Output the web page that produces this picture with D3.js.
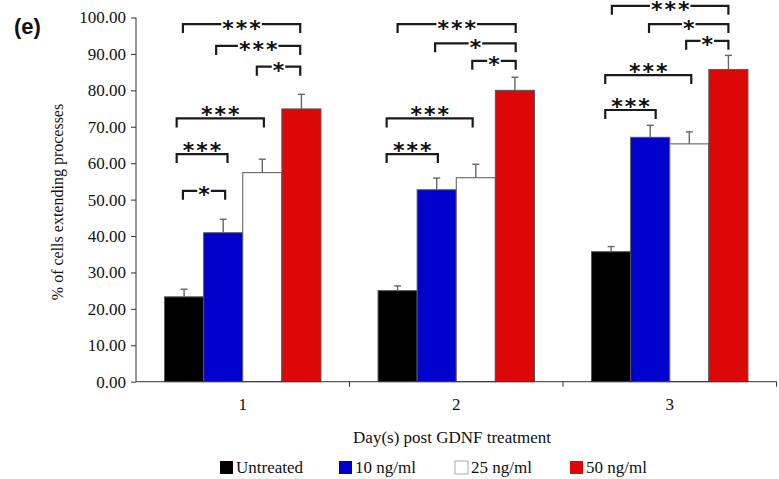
<!DOCTYPE html>
<html>
<head>
<meta charset="utf-8">
<script src="https://cdn.jsdelivr.net/npm/d3@7/dist/d3.min.js"></script>
<style>
  body { margin: 0; background: #fff; }
  text { font-family: "Liberation Serif", "Times New Roman", serif; fill: #111; }
</style>
</head>
<body>
<div id="chart"></div>
<script>
// data
const days = ["1", "2", "3"];
const series = ["Untreated", "10 ng/ml", "25 ng/ml", "50 ng/ml"];
const colors = ["#000000", "#0000cc", "#ffffff", "#dd0707"];

const untreated = [23.3, 25.0, 35.7];
const ng10 = [40.9, 52.7, 67.1];
const ng25 = [57.4, 56.0, 65.3];
const ng50 = [74.9, 80.0, 85.7];

const untreatedErr = [2.1, 1.3, 1.4];
const ng10Err = [3.7, 3.2, 3.3];
const ng25Err = [3.7, 3.7, 3.3];
const ng50Err = [4.0, 3.6, 3.9];

const yTicks = [0, 10, 20, 30, 40, 50, 60, 70, 80, 90, 100];

// significance brackets: day, from (bar units), to (bar units), level (%), label, stars inline?
const brackets = [
  ["1", 0.47, 3.47, 98.2, "***", true],
  ["1", 1.32, 3.47, 92.2, "***", true],
  ["1", 2.36, 3.47, 86.5, "*", true],
  ["1", 0.31, 2.54, 72.3, "***", false],
  ["1", 0.31, 1.61, 62.5, "***", false],
  ["1", 0.47, 1.55, 52.4, "*", true],
  ["2", 0.50, 3.52, 98.2, "***", true],
  ["2", 1.46, 3.52, 92.9, "*", true],
  ["2", 2.41, 3.52, 88.1, "*", true],
  ["2", 0.22, 2.42, 72.3, "***", false],
  ["2", 0.22, 1.53, 62.5, "***", false],
  ["3", 0.52, 3.50, 103.2, "***", true],
  ["3", 1.47, 3.50, 98.2, "*", true],
  ["3", 2.42, 3.50, 93.6, "*", true],
  ["3", 0.35, 2.55, 84.2, "***", false],
  ["3", 0.35, 1.64, 74.6, "***", false]
];

const values = [untreated, ng10, ng25, ng50];
const errors = [untreatedErr, ng10Err, ng25Err, ng50Err];

const W = 779, H = 479;
const svg = d3.select("#chart").append("svg")
  .attr("width", W).attr("height", H);

svg.append("rect").attr("width", W).attr("height", H).attr("fill", "#fff");

const x0 = d3.scaleBand().domain(days).range([136, 776.5]).padding(0);
const x1 = d3.scaleBand().domain(series).range([0, x0.bandwidth()])
  .paddingInner(0).paddingOuter(0.73);
const y = d3.scaleLinear().domain([0, 100]).range([381.7, 17.5]);

// bar-unit position inside a day group
const xu = (day, u) => x0(day) + x1(series[0]) + u * x1.step();

// bars
const rows = [];
days.forEach((d, i) => {
  series.forEach((s, j) => {
    rows.push({ day: d, s: s, j: j, v: values[j][i], e: errors[j][i] });
  });
});

svg.append("g").selectAll("rect")
  .data(rows)
  .join("rect")
  .attr("x", d => x0(d.day) + x1(d.s))
  .attr("y", d => y(d.v))
  .attr("width", x1.bandwidth())
  .attr("height", d => y(0) - y(d.v))
  .attr("fill", d => colors[d.j])
  .attr("stroke", "#555")
  .attr("stroke-width", 1);

// error bars (upper only)
const eb = svg.append("g").attr("stroke", "#666").attr("stroke-width", 1.4);
rows.forEach(d => {
  const cx = x0(d.day) + x1(d.s) + x1.bandwidth() / 2;
  eb.append("line").attr("x1", cx).attr("x2", cx).attr("y1", y(d.v)).attr("y2", y(d.v + d.e));
  eb.append("line").attr("x1", cx - 3.5).attr("x2", cx + 3.5).attr("y1", y(d.v + d.e)).attr("y2", y(d.v + d.e));
});

// y axis
const yAxis = svg.append("g")
  .attr("transform", "translate(136,0)")
  .call(d3.axisLeft(y).tickValues(yTicks).tickFormat(d3.format(".2f")).tickSize(5).tickPadding(5));
yAxis.select(".domain").attr("stroke", "#333").attr("d", `M0,${y(100)}V${y(0)}`);
yAxis.selectAll(".tick line").attr("stroke", "#333");
yAxis.selectAll("text").style("font-family", "Liberation Serif").style("font-size", "17px").attr("fill", "#111");

// x axis
const xAxis = svg.append("g").attr("transform", `translate(0,${y(0)})`);
xAxis.append("line").attr("x1", 136).attr("x2", 776.5).attr("y1", 0).attr("y2", 0).attr("stroke", "#333");
xAxis.selectAll(".sep")
  .data(days)
  .join("line")
  .attr("x1", d => x0(d) + x0.bandwidth()).attr("x2", d => x0(d) + x0.bandwidth())
  .attr("y1", 0).attr("y2", 5).attr("stroke", "#333");
xAxis.selectAll(".lab")
  .data(days)
  .join("text")
  .attr("x", d => x0(d) + x0.bandwidth() / 2)
  .attr("y", 28)
  .attr("text-anchor", "middle")
  .style("font-size", "17px")
  .text(d => d);

// axis titles
svg.append("text")
  .attr("x", 452).attr("y", 443)
  .attr("text-anchor", "middle")
  .style("font-size", "17px")
  .text("Day(s) post GDNF treatment");

svg.append("text")
  .attr("transform", "translate(63,202) rotate(-90)")
  .attr("text-anchor", "middle")
  .style("font-size", "16px")
  .text("% of cells extending processes");

// panel letter
svg.append("text")
  .attr("x", 14).attr("y", 34)
  .style("font-family", "Liberation Sans, Arial, sans-serif")
  .style("font-weight", "bold")
  .style("font-size", "22px")
  .text("(e)");

// significance brackets
const bg = svg.append("g");
brackets.forEach(b => {
  const [day, a, c, lvl, lab, inline] = b;
  const xa = xu(day, a), xc = xu(day, c), yl = y(lvl);
  const xm = (xa + xc) / 2;
  const g = bg.append("g");
  const t = g.append("text")
    .attr("x", xm + 1)
    .attr("y", inline ? yl + 11.5 : yl + 4)
    .attr("text-anchor", "middle")
    .style("font-family", "DejaVu Sans, sans-serif")
    .style("font-weight", "bold")
    .style("font-size", "22px")
    .style("letter-spacing", "2px")
    .attr("fill", "#1a1a1a")
    .text(lab);
  const bb = t.node().getBBox();
  const path = d3.path();
  if (inline) {
    path.moveTo(xa, yl + 9); path.lineTo(xa, yl); path.lineTo(bb.x - 1, yl);
    path.moveTo(bb.x + bb.width - 1, yl); path.lineTo(xc, yl); path.lineTo(xc, yl + 9);
  } else {
    path.moveTo(xa, yl + 9); path.lineTo(xa, yl); path.lineTo(xc, yl); path.lineTo(xc, yl + 9);
  }
  g.insert("path", "text")
    .attr("d", path.toString())
    .attr("fill", "none")
    .attr("stroke", "#1a1a1a")
    .attr("stroke-width", 2.2);
});

// legend
const legend = svg.append("g").attr("transform", "translate(0,461)");
const lx = [220, 339, 455, 570];
series.forEach((s, j) => {
  legend.append("rect")
    .attr("x", lx[j]).attr("y", 0)
    .attr("width", 13).attr("height", 13)
    .attr("fill", colors[j])
    .attr("stroke", j === 2 ? "#aaa" : "none");
  legend.append("text")
    .attr("x", lx[j] + 16).attr("y", 12)
    .style("font-size", "17px")
    .text(s);
});
</script>
</body>
</html>
